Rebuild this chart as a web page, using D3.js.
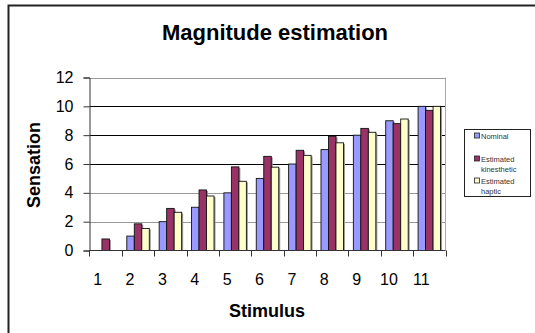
<!DOCTYPE html>
<html>
<head>
<meta charset="utf-8">
<style>
  body { margin: 0; background: #fff; }
  svg { display: block; font-family: Arial, "Liberation Sans", sans-serif; }
</style>
</head>
<body>
<svg width="535" height="333"></svg>
<script src="https://d3js.org/d3.v7.min.js"></script>
<script>
var stimulus = ["1", "2", "3", "4", "5", "6", "7", "8", "9", "10", "11"];
var seriesNames = ["Nominal", "Estimated kinesthetic", "Estimated haptic"];
var seriesColors = ["#9999ff", "#993366", "#ffffcc"];
var nominal = [0, 1, 2, 3, 4, 5, 6, 7, 8, 9, 10];
var kinesthetic = [0.8, 1.85, 2.92, 4.2, 5.8, 6.53, 6.95, 7.92, 8.47, 8.8, 9.72];
var haptic = [0, 1.53, 2.65, 3.78, 4.8, 5.78, 6.6, 7.47, 8.2, 9.12, 10];
var yTicks = [0, 2, 4, 6, 8, 10, 12];

(function() {
var series = [nominal, kinesthetic, haptic];

var svg = d3.select("svg");

// outer chart border (runs off the right and bottom edges)
svg.append("rect")
    .attr("x", 8.5).attr("y", 5.5)
    .attr("width", 540).attr("height", 340)
    .attr("fill", "none").attr("stroke", "#222").attr("stroke-width", 2);

var pLeft = 89.5, pRight = 445.5, pTop = 77.5, pBottom = 250.5;

var x = d3.scaleBand().domain(stimulus).range([pLeft, pRight]);
var inner = d3.scaleBand().domain([0, 1, 2]).range([0, x.bandwidth()]).paddingOuter(0.66).paddingInner(0);
var y = d3.scaleLinear().domain([0, 12]).range([pBottom, pTop]);

// gridlines
svg.append("g").selectAll("line")
  .data(yTicks.filter(function(d) { return d > 0; }))
  .enter().append("line")
    .attr("x1", pLeft).attr("x2", pRight)
    .attr("y1", function(d) { return Math.round(y(d)) + 0.5; })
    .attr("y2", function(d) { return Math.round(y(d)) + 0.5; })
    .attr("stroke", function(d) { return (d >= 6 && d <= 10) ? "#000" : "#999"; })
    .attr("stroke-width", 1);

// right plot border
svg.append("line")
    .attr("x1", pRight).attr("x2", pRight).attr("y1", pTop).attr("y2", pBottom)
    .attr("stroke", "#aaa");

// bars
function barData(vals) {
  return vals.map(function(v, i) { return { cat: stimulus[i], v: v }; })
             .filter(function(d) { return d.v > 0; });
}

series.forEach(function(vals, si) {
  svg.append("g").selectAll("rect").data(barData(vals)).enter().append("rect")
      .attr("x", function(d) { return x(d.cat) + inner(si) + 1.5; })
      .attr("y", function(d) { return y(d.v) + 1; })
      .attr("width", inner.bandwidth())
      .attr("height", function(d) { return pBottom - y(d.v) - 1; })
      .attr("fill", "#999");
});
series.forEach(function(vals, si) {
  svg.append("g").selectAll("rect").data(barData(vals)).enter().append("rect")
      .attr("x", function(d) { return x(d.cat) + inner(si); })
      .attr("y", function(d) { return y(d.v); })
      .attr("width", inner.bandwidth())
      .attr("height", function(d) { return pBottom - y(d.v); })
      .attr("fill", seriesColors[si])
      .attr("stroke", "#111").attr("stroke-width", 0.9);
});

// y axis
var yAxis = svg.append("g")
    .attr("transform", "translate(" + pLeft + ",0)")
    .call(d3.axisLeft(y).tickValues(yTicks).tickSize(6).tickPadding(10));
yAxis.select(".domain").attr("stroke", "#333");
yAxis.selectAll(".tick line").attr("stroke", "#333");
yAxis.selectAll("text").attr("font-size", 16).attr("fill", "#000").attr("font-family", "Arial, 'Liberation Sans', sans-serif");

// x axis: baseline and ticks at category boundaries
svg.append("line")
    .attr("x1", pLeft).attr("x2", pRight).attr("y1", pBottom).attr("y2", pBottom)
    .attr("stroke", "#333");
var bounds = stimulus.map(function(d) { return x(d); }).concat([pRight]);
svg.append("g").selectAll("line")
  .data(bounds)
  .enter().append("line")
    .attr("x1", function(d) { return Math.round(d) + 0.5; })
    .attr("x2", function(d) { return Math.round(d) + 0.5; })
    .attr("y1", pBottom).attr("y2", pBottom + 6)
    .attr("stroke", "#333");

svg.append("g").selectAll("text")
  .data(stimulus)
  .enter().append("text")
    .attr("x", function(d) { return x(d) + x.bandwidth() / 2 - 8; })
    .attr("y", 285)
    .attr("text-anchor", "middle")
    .attr("font-size", 16)
    .text(function(d) { return d; });

// titles
svg.append("text")
    .attr("x", 275).attr("y", 40)
    .attr("text-anchor", "middle")
    .attr("font-size", 22).attr("font-weight", "bold")
    .text("Magnitude estimation");

svg.append("text")
    .attr("x", 267).attr("y", 317)
    .attr("text-anchor", "middle")
    .attr("font-size", 18).attr("font-weight", "bold")
    .text("Stimulus");

svg.append("text")
    .attr("transform", "translate(40,165) rotate(-90)")
    .attr("text-anchor", "middle")
    .attr("font-size", 18).attr("font-weight", "bold")
    .text("Sensation");

// legend
var legend = svg.append("g");
legend.append("rect")
    .attr("x", 464.5).attr("y", 129.5)
    .attr("width", 66).attr("height", 67)
    .attr("fill", "#fff").attr("stroke", "#222");

var legendRows = [
  { lines: ["Nominal"], y: 136 },
  { lines: ["Estimated", "kinesthetic"], y: 159 },
  { lines: ["Estimated", "haptic"], y: 181 }
];
legendRows.forEach(function(r, i) {
  legend.append("rect")
      .attr("x", 474.5).attr("y", r.y - 3)
      .attr("width", 5).attr("height", 5)
      .attr("fill", seriesColors[i]).attr("stroke", "#222").attr("stroke-width", 0.8);
  r.lines.forEach(function(t, j) {
    legend.append("text")
        .attr("x", 481).attr("y", r.y + 3 + j * 9.5)
        .attr("font-size", 7.5).attr("fill", "#333")
        .text(t);
  });
});
})();
</script>
</body>
</html>
